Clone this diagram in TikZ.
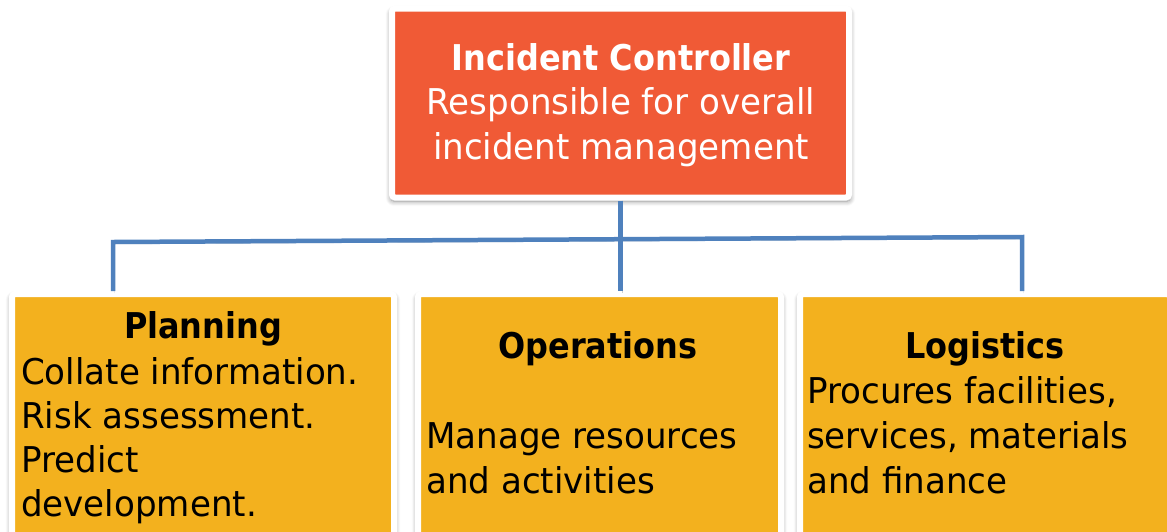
\documentclass[tikz,border=0pt]{standalone}
\usepackage{fontspec}
\setmainfont{DejaVu Sans}[UprightFeatures={FakeStretch=0.96},BoldFeatures={FakeStretch=0.9}]
\usetikzlibrary{shadows.blur}
\definecolor{icred}{HTML}{F05A36}
\definecolor{cellyellow}{HTML}{F3B11E}
\definecolor{linkblue}{HTML}{4F81BD}
\tikzstyle{frame}=[rectangle,draw=white,line width=6pt,rounded corners=3pt,inner sep=0pt,outer sep=0pt,blur shadow={shadow xshift=0pt,shadow yshift=-3pt,shadow scale=1.006,shadow blur radius=5pt,shadow blur steps=8,shadow opacity=45}]
\tikzstyle{link}=[linkblue,line width=4.5pt,shorten <=3pt,shorten >=3pt,preaction={draw=black,opacity=0.18,transform canvas={xshift=1.5pt,yshift=-2pt}}]
\tikzstyle{txt}=[inner sep=0pt,font=\fontsize{35.5}{44}\selectfont]

\begin{document}
\begin{tikzpicture}[x=1pt,y=-1pt]
	\useasboundingbox (0,0) rectangle (1167,531);
	\coordinate (bus-l) at (113,242);
	\coordinate (bus-r) at (1022,237);
	\node[frame,fill=icred,minimum width=457pt,minimum height=189pt] (ic) at (620.5,103) {};
	\node[frame,fill=cellyellow,minimum width=382pt,minimum height=260pt] (plan) at (203,424) {};
	\node[frame,fill=cellyellow,minimum width=363pt,minimum height=260pt] (ops) at (599.5,424) {};
	\node[frame,fill=cellyellow,minimum width=370pt,minimum height=260pt] (logi) at (985,424) {};
	%\draw[red] (0,0) grid[step=50] (1167,531);
	\draw[link] (bus-l |- plan.north) -- (bus-l) -- (bus-r) -- (bus-r |- logi.north);
	\draw[link] (ic.south) -- (ic.south |- ops.north);

	\node[txt,white,anchor=base] (ic-1) at (621,70) {\bfseries Incident Controller};
	\foreach \t [count=\i from 2] in {Responsible for overall,incident management}{ \node[txt,white,anchor=base] (ic-\i) at (621,{70+44.5*(\i-1)}) {\t};}

	\node[txt,anchor=base] (plan-0) at (203,338) {\bfseries Planning};
	\foreach \t [count=\i] in {Collate information.,Risk assessment.,Predict,development.}{ \node[txt,anchor=base west] (plan-\i) at (21,{384+44*(\i-1)}) {\t};}

	\node[txt,anchor=base] (ops-0) at (598,358) {\bfseries Operations};
	\foreach \t [count=\i] in {Manage resources,and activities}{ \node[txt,anchor=base west] (ops-\i) at (426,{448+45*(\i-1)}) {\t};}

	\node[txt,anchor=base] (logi-0) at (985,358) {\bfseries Logistics};
	\foreach \t [count=\i] in {{Procures facilities,},{services, materials},and finance}{ \node[txt,anchor=base west] (logi-\i) at (807,{403+45*(\i-1)}) {\t};}
\end{tikzpicture}
\end{document}
